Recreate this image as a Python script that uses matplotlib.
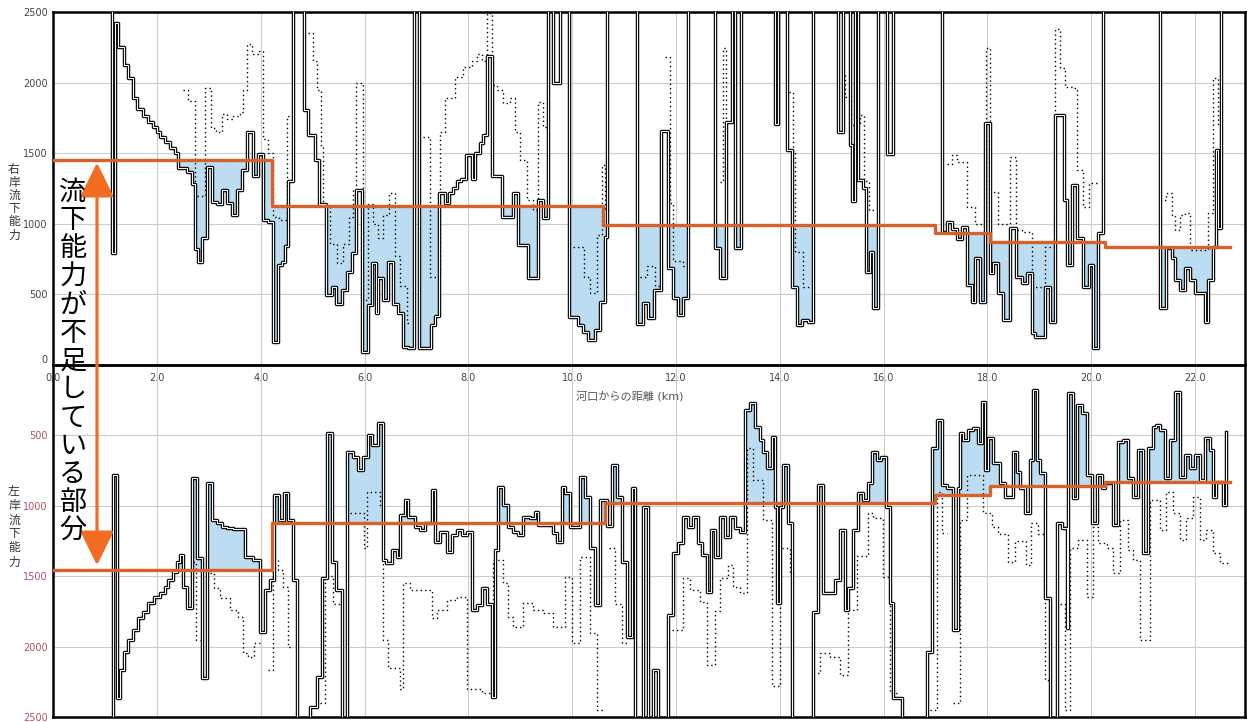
import numpy as np
import matplotlib
matplotlib.use("Agg")
import matplotlib.pyplot as plt
from matplotlib.patches import FancyArrowPatch

plt.rcParams["font.family"] = ["DejaVu Sans", "Noto Sans CJK JP"]

# --- data (km from river mouth, flow capacity m3/s); 2700 = off the chart ---
# right bank, present capacity (solid step line)
rb_km = [1.10, 1.126, 1.191, 1.255, 1.364, 1.448, 1.544, 1.621, 1.724, 1.833,
         1.929, 1.994, 2.058, 2.154, 2.250, 2.347, 2.411, 2.572, 2.668, 2.732,
         2.796, 2.861, 2.957, 3.054, 3.150, 3.246, 3.342, 3.452, 3.548, 3.631,
         3.728, 3.856, 3.952, 4.049, 4.145, 4.241, 4.338, 4.402, 4.466, 4.531,
         4.627, 4.832, 4.916, 5.045, 5.128, 5.256, 5.365, 5.449, 5.558, 5.654,
         5.750, 5.834, 5.943, 6.072, 6.137, 6.220, 6.265, 6.360, 6.458, 6.554,
         6.650, 6.747, 6.843, 6.952, 7.055, 7.164, 7.270, 7.357, 7.440, 7.549,
         7.632, 7.710, 7.774, 7.851, 7.947, 8.063, 8.127, 8.224, 8.288, 8.365,
         8.448, 8.640, 8.852, 8.960, 9.155, 9.334, 9.444, 9.540, 9.636, 9.765,
         9.945, 10.118, 10.215, 10.311, 10.440, 10.536, 10.632, 10.664, 11.242, 11.370,
         11.470, 11.580, 11.720, 11.853, 11.949, 12.045, 12.142, 12.238, 12.752, 12.848,
         12.964, 13.073, 13.137, 13.247, 13.900, 13.970, 14.132, 14.229, 14.325, 14.421,
         14.550, 14.646, 15.122, 15.218, 15.346, 15.400, 15.450, 15.500, 15.600, 15.660,
         15.730, 15.800, 15.890, 16.060, 16.180, 17.120, 17.220, 17.310, 17.410, 17.510,
         17.600, 17.700, 17.760, 17.860, 17.950, 18.050, 18.110, 18.210, 18.310, 18.440,
         18.560, 18.660, 18.760, 18.860, 18.920, 19.110, 19.210, 19.310, 19.470, 19.530,
         19.630, 19.720, 19.850, 19.950, 20.040, 20.140, 20.220, 21.330, 21.450, 21.550,
         21.620, 21.710, 21.810, 21.900, 22.000, 22.190, 22.260, 22.340, 22.400, 22.440,
         22.510, 22.560]
rb_q = [2700, 790, 2420, 2250, 2125, 2035, 1890, 1815, 1760, 1720,
        1685, 1650, 1615, 1580, 1535, 1500, 1395, 1370, 1285, 825,
        730, 900, 1405, 1155, 1140, 1240, 1145, 1060, 1240, 1380,
        1650, 1335, 1495, 1030, 1015, 165, 710, 730, 840, 1300,
        2700, 1805, 1628, 1451, 1140, 495, 555, 435, 530, 660,
        790, 1240, 95, 425, 720, 370, 615, 460, 730, 435,
        365, 130, 118, 2700, 118, 120, 280, 345, 1215, 1145,
        1215, 1250, 1300, 1320, 1490, 1320, 1500, 1570, 1630, 2190,
        1335, 1050, 1220, 850, 615, 1170, 1040, 2700, 1994, 2700,
        342, 283, 236, 177, 248, 448, 908, 2700, 290, 440,
        330, 530, 1660, 684, 472, 354, 472, 2700, 826, 613,
        1722, 2700, 826, 2700, 1710, 2700, 1522, 554, 283, 318,
        307, 2700, 1652, 2700, 1557, 1160, 2700, 1310, 1250, 661,
        800, 401, 2700, 1494, 2700, 944, 1015, 960, 890, 979,
        566, 448, 755, 448, 1711, 649, 720, 507, 318, 967,
        625, 578, 649, 224, 200, 554, 307, 1770, 1168, 708,
        1274, 897, 554, 708, 118, 932, 2700, 401, 826, 755,
        601, 531, 684, 601, 507, 307, 601, 838, 1522, 967,
        2700, 2700]

# right bank, dotted step line
rd_km = [2.507, 2.604, 2.732, 2.925, 3.038, 3.134, 3.246, 3.342, 3.47, 3.6,
         3.663, 3.74, 3.84, 3.952, 4.049, 4.145, 4.241, 4.36, 4.5, 4.56,
         4.916, 5.012, 5.09, 5.154, 5.2, 5.33, 5.46, 5.59, 5.69, 5.78,
         5.834, 5.976, 6.07, 6.17, 6.26, 6.36, 6.47, 6.58, 6.68, 6.81,
         6.9, 7.131, 7.26, 7.45, 7.55, 7.74, 7.9, 8.06, 8.16, 8.26,
         8.35, 8.45, 8.55, 8.67, 8.8, 8.9, 8.99, 9.12, 9.25, 9.35,
         9.44, 9.54, 10.02, 10.22, 10.34, 10.47, 10.57, 10.63, 10.7, 11.3,
         11.45, 11.6, 11.72, 11.79, 11.88, 11.95, 12.14, 12.2, 12.85, 12.9,
         12.97, 13.0, 14.17, 14.25, 14.3, 14.45, 14.6, 15.12, 15.25, 15.38,
         15.55, 15.62, 15.72, 15.85, 17.22, 17.31, 17.41, 17.6, 17.76, 17.97,
         18.05, 18.21, 18.44, 18.56, 18.66, 18.86, 19.11, 19.31, 19.4, 19.5,
         19.63, 19.72, 19.85, 19.95, 20.14, 21.33, 21.45, 21.55, 21.62, 21.71,
         21.81, 21.9, 22.26, 22.34, 22.44, 22.51]
rd_q = [1950, 1870, 1200, 1960, 1680, 1650, 1775, 1745, 1760, 1790,
        1950, 2275, 2200, 2225, 1600, 1500, 1050, 1030, 1760, None,
        2350, 2150, 1950, 1550, 1120, 860, 720, 860, 1050, 1240,
        2000, 460, 1140, 1000, 900, 1060, 1220, 770, 560, 300,
        None, 1616, 625, 1652, 1888, 2041, 2112, 2150, 2206, 2150,
        2490, 1982, 1947, 1852, 1888, 1652, 1451, 1168, 1097, 1864,
        1687, None, 838, 625, 507, 920, 1416, 1100, None, 620,
        700, 560, None, 2180, 1144, 740, 700, None, 1298, 2242,
        1650, None, 1935, 1500, 800, 550, None, 2065, 1900, 1700,
        1770, 1300, 1100, None, 1420, 1487, 1440, 1120, 1000, 2242,
        1227, 1000, 1475, 956, 944, 554, 838, 2383, 2100, 1970,
        1960, 1380, 1120, 1286, None, 1168, 1215, 1062, 956, 1062,
        1074, 814, 1080, 2030, 1700, None]

# left bank, present capacity (solid step line)
lb_km = [1.10, 1.146, 1.223, 1.287, 1.364, 1.448, 1.544, 1.640, 1.736, 1.833,
         1.942, 2.058, 2.154, 2.218, 2.302, 2.379, 2.443, 2.494, 2.572, 2.668,
         2.764, 2.861, 2.970, 3.054, 3.150, 3.246, 3.342, 3.470, 3.695, 3.856,
         3.985, 4.081, 4.177, 4.254, 4.360, 4.440, 4.530, 4.627, 4.691, 4.948,
         5.077, 5.173, 5.270, 5.365, 5.449, 5.558, 5.654, 5.783, 5.879, 5.976,
         6.072, 6.137, 6.265, 6.362, 6.413, 6.522, 6.618, 6.683, 6.780, 6.843,
         6.972, 7.068, 7.164, 7.293, 7.357, 7.453, 7.581, 7.678, 7.774, 7.870,
         7.967, 8.063, 8.160, 8.256, 8.352, 8.449, 8.513, 8.577, 8.673, 8.770,
         8.866, 8.962, 9.058, 9.187, 9.283, 9.348, 9.637, 9.700, 9.797, 9.861,
         9.958, 10.150, 10.247, 10.343, 10.440, 10.536, 10.664, 10.760, 10.857, 10.953,
         11.050, 11.146, 11.210, 11.358, 11.467, 11.564, 11.660, 11.853, 11.949, 12.045,
         12.142, 12.238, 12.334, 12.430, 12.494, 12.591, 12.675, 12.752, 12.848, 12.944,
         13.041, 13.137, 13.233, 13.330, 13.426, 13.522, 13.619, 13.683, 13.747, 13.843,
         13.908, 13.940, 14.004, 14.055, 14.152, 14.229, 14.646, 14.742, 14.839, 15.063,
         15.160, 15.256, 15.320, 15.417, 15.513, 15.609, 15.706, 15.770, 15.866, 15.950,
         16.046, 16.123, 16.188, 16.348, 16.830, 16.926, 17.020, 17.120, 17.215, 17.343,
         17.440, 17.472, 17.536, 17.632, 17.728, 17.825, 17.889, 17.953, 18.017, 18.100,
         18.242, 18.338, 18.499, 18.563, 18.627, 18.724, 18.820, 18.884, 18.948, 19.013,
         19.109, 19.205, 19.333, 19.430, 19.526, 19.558, 19.654, 19.718, 19.814, 19.911,
         20.007, 20.103, 20.199, 20.263, 20.424, 20.520, 20.617, 20.713, 20.809, 20.905,
         21.002, 21.098, 21.194, 21.258, 21.322, 21.419, 21.515, 21.611, 21.708, 21.804,
         21.900, 21.996, 22.093, 22.189, 22.285, 22.349, 22.413, 22.542, 22.606]
lb_q = [2700, 781, 2367, 2166, 2036, 1953, 1882, 1799, 1752, 1692,
        1645, 1621, 1574, 1527, 1468, 1397, 1349, 1574, 1728, 805,
        1373, 2225, 840, 1101, 1125, 1148, 1160, 1165, 1361, 1385,
        1894, 1598, 1527, 923, 1101, 911, 1101, 1527, 2700, 2426,
        2213, 1515, 485, 1397, 1598, 2700, 615, 651, 746, 651,
        497, 568, 414, 1385, 1409, 1314, 1361, 1065, 959, 1077,
        1148, 1172, 1125, 888, 1255, 1184, 1326, 1208, 1172, 1208,
        1184, 1740, 1704, 1586, 1700, 2355, 1314, 864, 994, 1148,
        1184, 1208, 1077, 1089, 1041, 1136, 1196, 1255, 864, 911,
        1148, 793, 935, 1302, 1704, 959, 1140, 710, 935, 1397,
        1929, 876, 2700, 1006, 2700, 2166, 2700, 1775, 1337, 1266,
        1077, 1148, 1077, 1266, 1349, 1610, 1172, 1361, 1077, 1219,
        1077, 1160, 1184, 320, 272, 438, 533, 615, 734, 509,
        1006, 1692, 1006, 710, 1125, 2700, 1752, 852, 1621, 1527,
        1172, 1740, 1586, 1172, 911, 959, 840, 615, 675, 651,
        1006, 1692, 2367, 2700, 2036, 592, 391, 852, 876, 1882,
        876, 485, 533, 462, 450, 556, 260, 746, 521, 698,
        840, 935, 615, 757, 876, 1053, 675, 178, 675, 769,
        1657, 2700, 1125, 1160, 1870, 201, 947, 284, 343, 781,
        1125, 781, 876, 840, 1136, 545, 533, 805, 935, 604,
        1337, 592, 438, 426, 462, 805, 533, 189, 793, 639,
        734, 639, 817, 521, 604, 935, 828, 994, 473]

# left bank, dotted step line
ld_km = [2.70, 2.76, 2.83, 3.02, 3.09, 3.21, 3.41, 3.57, 3.66, 3.76,
         3.86, 3.985, 4.145, 4.241, 4.338, 4.434, 4.531, 4.627, 5.141, 5.237,
         5.40, 5.558, 5.72, 5.98, 6.04, 6.297, 6.362, 6.458, 6.683, 6.747,
         6.876, 7.293, 7.389, 7.581, 7.774, 7.967, 8.256, 8.481, 8.673, 8.77,
         8.866, 9.058, 9.25, 9.444, 9.637, 9.861, 9.99, 10.15, 10.343, 10.472,
         10.6, 10.7, 10.825, 10.953, 11.05, 11.917, 12.142, 12.27, 12.463, 12.591,
         12.752, 12.848, 13.009, 13.105, 13.233, 13.362, 13.49, 13.683, 13.843, 14.004,
         14.197, 14.3, 14.646, 14.774, 14.967, 15.16, 15.32, 15.481, 15.706, 15.802,
         15.995, 16.123, 16.252, 16.894, 17.02, 17.12, 17.215, 17.343, 17.472, 17.6,
         17.92, 18.08, 18.21, 18.4, 18.53, 18.75, 18.85, 18.98, 19.109, 19.205,
         19.398, 19.494, 19.59, 19.751, 19.911, 20.04, 20.135, 20.296, 20.424, 20.553,
         20.713, 20.809, 20.938, 21.13, 21.322, 21.45, 21.58, 21.708, 21.836, 21.964,
         22.093, 22.22, 22.35, 22.478, 22.64]
ld_q = [1400, 1950, None, 1480, 1586, 1657, 1740, 1787, 2047, 2071,
        1976, None, 2166, 1385, 1456, 1574, 2000, None, 2400, 1500,
        1700, None, 1050, 1300, 900, 1000, 1950, 2150, 2300, 1550,
        1598, 1800, 1740, 1669, 1645, 2300, 2331, 1385, 1550, 1787,
        1858, 1692, 1740, 1763, 1858, 1503, 1976, 1361, 1905, 2450,
        None, 1300, 1700, 1976, None, 1880, 1515, 1600, 1681, 2130,
        1750, 1515, 1420, 1580, 1621, 590, 820, 1100, 2280, 1300,
        1480, None, 2190, 2047, 2071, 2200, 1740, 1360, 1050, 1089,
        1503, 2331, None, 2450, 900, 1195, None, 2400, 1100, 780,
        1050, 1150, 1200, 1400, 1250, 1420, 1124, 1200, 2240, None,
        1700, 2450, 1300, 1243, 1645, 1148, 1266, 1300, 1480, 1100,
        1314, 1385, 1953, 959, 1172, 900, 1053, 1243, 1090, 935,
        1243, 1172, 1337, 1409, 1409]

# required capacity (orange)
rreq_km = [0, 4.22, 10.60, 17.0, 18.05, 20.27, 22.67]
rreq_q = [1450, 1128, 992, 935, 873, 838, 838]
lreq_km = [0, 4.22, 10.63, 17.0, 18.05, 20.27, 22.67]
lreq_q = [1455, 1124, 982, 923, 859, 828, 828]

xticks = [0, 2, 4, 6, 8, 10, 12, 14, 16, 18, 20, 22]
xtick_labels = ["0.0", "2.0", "4.0", "6.0", "8.0", "10.0", "12.0",
                "14.0", "16.0", "18.0", "20.0", "22.0"]
top_yticks = [0, 500, 1000, 1500, 2000, 2500]
bot_yticks = [500, 1000, 1500, 2000, 2500]

ORANGE = "#d8612b"
BLUE = "#bcdcf1"
GRID = "#cccccc"


def step_eval(km, q, xs):
    km = np.asarray(km, dtype=float)
    q = np.asarray(q, dtype=float)
    idx = np.searchsorted(km, xs, side="right") - 1
    out = np.full(xs.shape, np.nan)
    ok = (idx >= 0) & (xs < km[-1])
    out[ok] = q[idx[ok]]
    return out


def draw_panel(ax, km, q, dkm, dq, rkm, rq):
    xs = np.linspace(0, 23, 12000)
    b = step_eval(km, q, xs)
    r = step_eval(rkm, rq, xs)
    mask = np.nan_to_num(b, nan=9e9) < np.nan_to_num(r, nan=-1)
    ax.fill_between(xs, b, r, where=mask, color=BLUE, lw=0, zorder=1)

    dq = np.array(dq, dtype=float)
    ax.step(dkm, dq, where="post", color="k", lw=1.0,
            linestyle=(0, (1, 2.2)), zorder=2)
    # solid line is drawn hollow, like the printed original
    ax.step(km, q, where="post", color="#111111", lw=2.5, zorder=3)
    ax.step(km, q, where="post", color="white", lw=0.7, zorder=4)
    ax.step(rkm, rq, where="post", color=ORANGE, lw=2.4, zorder=5)

    ax.set_xlim(0, 22.963)
    ax.set_xticks(xticks)
    ax.grid(True, color=GRID, lw=0.8)
    ax.set_axisbelow(True)
    for s in ax.spines.values():
        s.set_linewidth(1.8)


fig = plt.figure(figsize=(12.47, 7.22), dpi=100)
ax1 = fig.add_axes([0.04266, 0.49446, 0.9557, 0.48892])
ax2 = fig.add_axes([0.04266, 0.00693, 0.9557, 0.48753])
ax2.set_facecolor("none")

draw_panel(ax1, rb_km, rb_q, rd_km, rd_q, rreq_km, rreq_q)
draw_panel(ax2, lb_km, lb_q, ld_km, ld_q, lreq_km, lreq_q)

ax1.set_ylim(0, 2500)
ax1.set_yticks(top_yticks)
ax1.set_xticklabels(xtick_labels)
ax1.tick_params(axis="both", length=0, labelsize=7, colors="#444444", pad=4)
ax1.tick_params(axis="x", pad=6)
ax1.get_yticklabels()[0].set_verticalalignment("bottom")

ax2.set_ylim(2500, 0)
ax2.set_yticks(bot_yticks)
ax2.set_xticklabels([])
ax2.tick_params(axis="both", length=0, labelsize=7, pad=4)
ax2.tick_params(axis="y", colors="#b4505f")

fig.text(0.505, 0.45, "河口からの距離 (km)", fontsize=8, color="#555555",
         ha="center", va="center")

for i, ch in enumerate("右岸流下能力"):
    fig.text(14 / 1247, 1 - (169 + 13.2 * i) / 722, ch, fontsize=8.5,
             color="#333333", ha="center", va="center")
for i, ch in enumerate("左岸流下能力"):
    fig.text(14 / 1247, 1 - (492 + 14 * i) / 722, ch, fontsize=8.5,
             color="#333333", ha="center", va="center")

arrow = FancyArrowPatch((97 / 1247, 1 - 160 / 722), (97 / 1247, 1 - 568 / 722),
                        transform=fig.transFigure,
                        arrowstyle="<|-|>,head_length=0.85,head_width=0.42",
                        mutation_scale=25, lw=2.3, color="#f26d21", zorder=10)
fig.add_artist(arrow)

for i, ch in enumerate("流下能力が不足している部分"):
    fig.text(73 / 1247, 1 - (192 + 28.25 * i) / 722, ch, fontsize=19.5,
             family=["Noto Sans CJK JP", "DejaVu Sans"], color="black",
             ha="center", va="center", zorder=11)

fig.savefig("out.png", dpi=100)
